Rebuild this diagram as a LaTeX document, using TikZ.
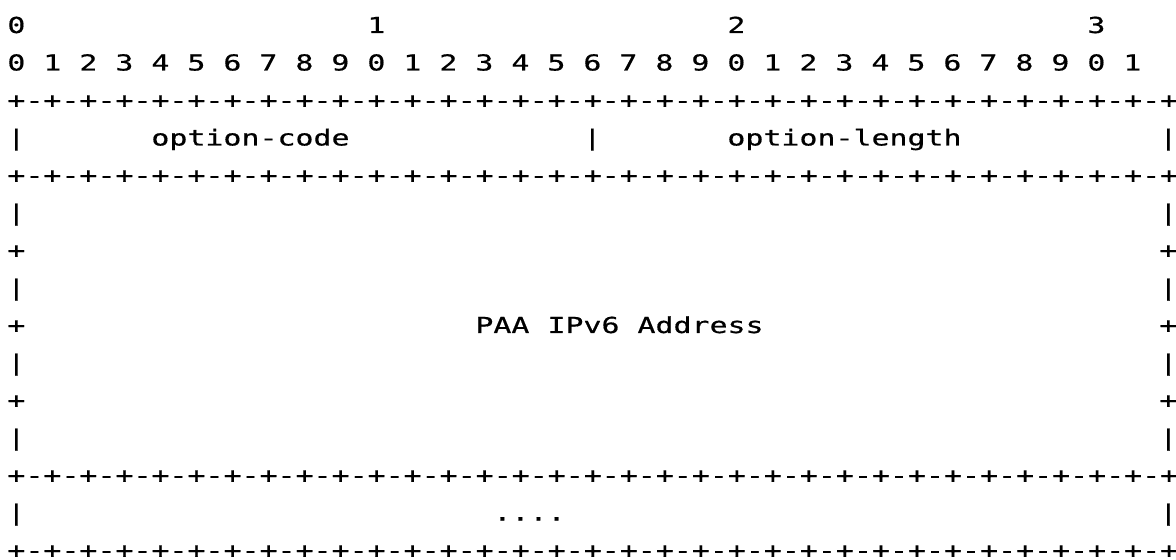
\documentclass[tikz,border=0pt]{standalone}
\usepackage{fontspec}
\newfontfamily\asciimono[FakeStretch=1.36, FakeBold=0.6]{DejaVu Sans Mono}
\newcommand{\dashplus}{-+-+-+-+}
\newcommand{\sepline}{+\dashplus\dashplus\dashplus\dashplus\dashplus\dashplus\dashplus\dashplus}

\begin{document}
\begin{tikzpicture}[
                      x=0.5pt, y=-0.5pt,
                  ]
                  \tikzset{
                      cell/.style = {inner sep=0pt, anchor=base west,
                                     font=\asciimono\fontsize{11}{13}\selectfont},
                  }
                  \useasboundingbox (0,0) rectangle (1176,560);

                  % Bit numbers
                  \foreach \d/\c in {0/0,1/20,2/40,3/60}
                      \node[cell] (tens\d) at ({7+18*\c},33) {\d};
                  \foreach \i [evaluate=\i as \d using {int(mod(\i,10))}] in {0,...,31}
                      \node[cell] (bit\i) at ({7+36*\i},70.5) {\d};

                  % Separator lines
                  \foreach \r in {2,4,12,14}
                      \node[cell] (sep\r) at (7,{33+37.5*\r}) {\sepline};

                  % Side borders
                  \foreach \r in {3,5,7,9,11,13} {
                      \node[cell] (barl\r) at (7,{33+37.5*\r}) {|};
                      \node[cell] (barr\r) at ({7+18*64},{33+37.5*\r}) {|};
                  }
                  \foreach \r in {6,8,10} {
                      \node[cell] (plusl\r) at (7,{33+37.5*\r}) {+};
                      \node[cell] (plusr\r) at ({7+18*64},{33+37.5*\r}) {+};
                  }

                  % Fields
                  \node[cell] (barm3) at ({7+18*32},145.5) {|};
                  \node[cell] (code) at ({7+18*8},145.5) {option-code};
                  \node[cell] (length) at ({7+18*40},145.5) {option-length};
                  \node[cell] (addr) at ({7+18*26},333) {PAA IPv6 Address};
                  \node[cell] (more) at ({7+18*27},520.5) {....};

              \end{tikzpicture}
\end{document}
